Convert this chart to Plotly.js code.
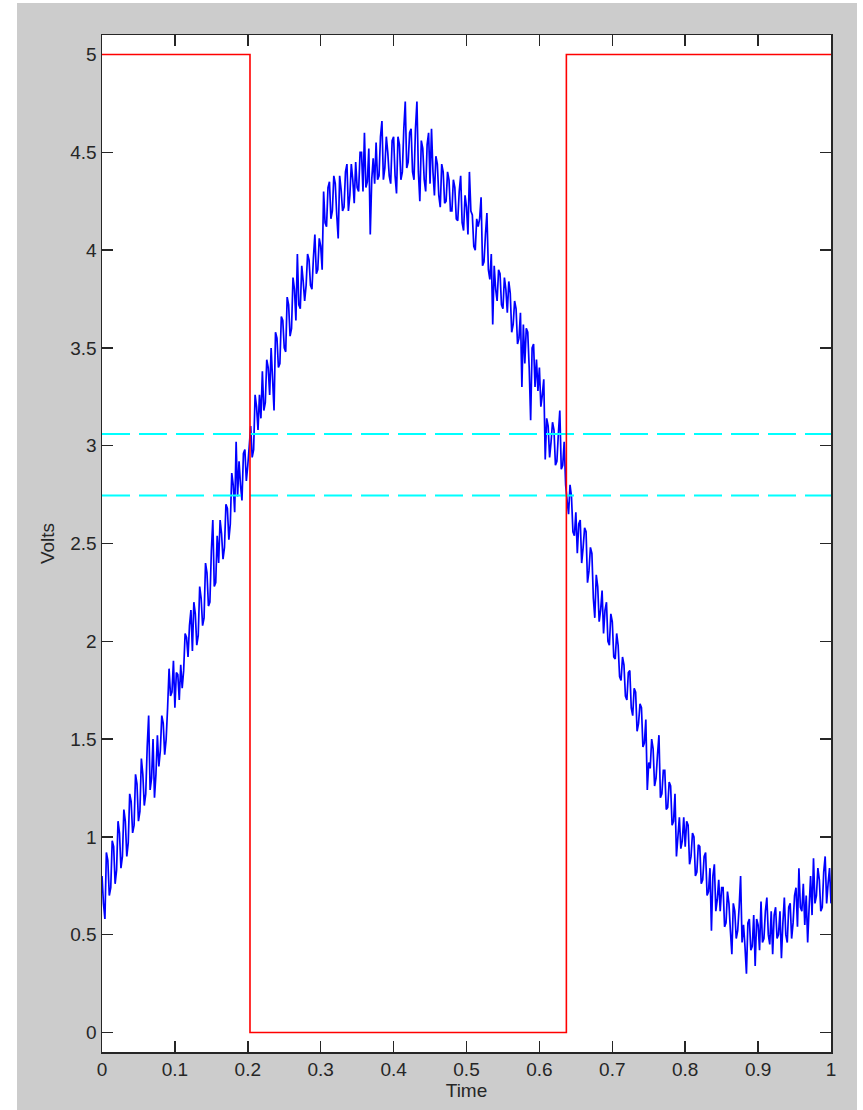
<!DOCTYPE html>
<html>
<head>
<meta charset="utf-8">
<script src="https://cdn.plot.ly/plotly-3.0.1.min.js"></script>
<style>
  html, body { margin: 0; padding: 0; background: #ffffff; }
  #chart { position: absolute; left: 17px; top: 3px; width: 840px; height: 1107px; }
</style>
</head>
<body>
<div id="chart"></div>
<script>
// Noisy measured signal (Volts), sampled every 0.002 s from t = 0
const signalStart = 0;
const signalStep = 0.002;
const signalVolts = [
  0.80, 0.66, 0.58, 0.92, 0.88, 0.70, 0.74, 0.98, 0.95, 0.76, 0.83, 1.08, 1.02, 0.84, 0.90, 1.14, 1.08, 0.90, 0.97, 1.22,
  1.18, 1.02, 1.06, 1.32, 1.27, 1.08, 1.13, 1.40, 1.32, 1.16, 1.22, 1.46, 1.62, 1.24, 1.30, 1.50, 1.20, 1.32, 1.52, 1.36,
  1.44, 1.62, 1.58, 1.42, 1.50, 1.66, 1.86, 1.72, 1.74, 1.90, 1.66, 1.84, 1.83, 1.70, 1.88, 1.76, 1.85, 2.04, 2.02, 1.92,
  2.08, 2.16, 1.95, 2.20, 2.14, 1.98, 2.03, 2.28, 2.22, 2.08, 2.12, 2.40, 2.35, 2.18, 2.20, 2.46, 2.62, 2.28, 2.30, 2.54,
  2.40, 2.62, 2.55, 2.42, 2.48, 2.70, 2.68, 2.52, 2.60, 2.86, 2.80, 2.66, 3.02, 2.74, 2.92, 2.80, 2.72, 2.96, 2.98, 2.82,
  2.90, 3.00, 3.10, 2.94, 2.98, 3.26, 3.20, 3.08, 3.26, 3.14, 3.38, 3.18, 3.22, 3.44, 3.40, 3.26, 3.50, 3.34, 3.18, 3.58,
  3.55, 3.40, 3.42, 3.66, 3.64, 3.50, 3.48, 3.76, 3.72, 3.56, 3.60, 3.86, 3.80, 3.64, 3.98, 3.72, 3.70, 3.92, 3.84, 3.74,
  3.82, 3.98, 3.95, 3.82, 3.80, 3.96, 4.08, 3.88, 3.90, 4.06, 4.02, 3.90, 4.30, 4.14, 4.12, 4.32, 4.35, 4.16, 4.20, 4.38,
  4.34, 4.18, 4.06, 4.38, 4.31, 4.20, 4.22, 4.40, 4.44, 4.20, 4.28, 4.44, 4.36, 4.24, 4.45, 4.32, 4.30, 4.50, 4.50, 4.30,
  4.60, 4.32, 4.35, 4.52, 4.08, 4.36, 4.47, 4.34, 4.55, 4.36, 4.38, 4.58, 4.66, 4.36, 4.42, 4.58, 4.50, 4.38, 4.34, 4.56,
  4.58, 4.38, 4.29, 4.58, 4.54, 4.36, 4.40, 4.62, 4.76, 4.42, 4.45, 4.60, 4.62, 4.40, 4.36, 4.62, 4.76, 4.40, 4.25, 4.56,
  4.52, 4.36, 4.30, 4.54, 4.60, 4.34, 4.62, 4.40, 4.28, 4.48, 4.44, 4.28, 4.22, 4.44, 4.40, 4.24, 4.25, 4.40, 4.36, 4.20,
  4.20, 4.36, 4.32, 4.16, 4.15, 4.30, 4.38, 4.14, 4.10, 4.28, 4.22, 4.08, 4.40, 4.20, 4.18, 4.02, 4.00, 4.16, 4.12, 4.16,
  4.27, 3.92, 3.94, 4.08, 4.19, 3.90, 3.85, 3.98, 3.62, 3.92, 3.80, 3.74, 3.90, 3.88, 3.72, 3.70, 3.86, 3.80, 3.68, 3.84,
  3.78, 3.58, 3.62, 3.74, 3.70, 3.52, 3.55, 3.68, 3.30, 3.62, 3.42, 3.60, 3.58, 3.40, 3.13, 3.50, 3.52, 3.30, 3.44, 3.28,
  3.40, 3.20, 3.26, 3.34, 2.93, 3.14, 3.10, 2.94, 3.02, 3.12, 3.08, 2.90, 2.92, 3.06, 3.18, 2.88, 2.90, 3.02, 2.80, 2.72,
  2.65, 2.80, 2.74, 2.56, 2.54, 2.66, 2.45, 2.60, 2.62, 2.40, 2.48, 2.58, 2.56, 2.30, 2.36, 2.48, 2.45, 2.22, 2.12, 2.34,
  2.28, 2.10, 2.16, 2.26, 2.04, 2.16, 2.20, 2.00, 1.98, 2.14, 2.10, 1.92, 1.91, 2.04, 1.98, 1.82, 1.80, 1.92, 1.88, 1.72,
  1.70, 1.84, 1.85, 1.66, 1.62, 1.76, 1.74, 1.54, 1.58, 1.68, 1.66, 1.46, 1.48, 1.60, 1.24, 1.38, 1.35, 1.50, 1.45, 1.26,
  1.30, 1.42, 1.52, 1.20, 1.22, 1.34, 1.34, 1.14, 1.15, 1.28, 1.26, 1.06, 1.08, 1.22, 0.90, 1.00, 1.10, 0.94, 0.98, 1.10,
  0.95, 1.08, 1.06, 0.86, 0.90, 1.02, 1.00, 0.80, 0.82, 0.96, 0.95, 0.76, 0.78, 0.90, 0.92, 0.70, 0.72, 0.84, 0.52, 0.80,
  0.86, 0.62, 0.68, 0.78, 0.62, 0.74, 0.74, 0.54, 0.56, 0.72, 0.66, 0.52, 0.40, 0.66, 0.62, 0.48, 0.52, 0.64, 0.80, 0.46,
  0.55, 0.44, 0.30, 0.56, 0.58, 0.42, 0.44, 0.60, 0.34, 0.58, 0.55, 0.42, 0.67, 0.46, 0.48, 0.62, 0.69, 0.50, 0.45, 0.62,
  0.40, 0.60, 0.64, 0.48, 0.50, 0.62, 0.38, 0.56, 0.69, 0.50, 0.46, 0.64, 0.66, 0.48, 0.56, 0.70, 0.74, 0.54, 0.84, 0.64,
  0.62, 0.76, 0.55, 0.70, 0.46, 0.64, 0.80, 0.60, 0.89, 0.66, 0.70, 0.84, 0.78, 0.62, 0.64, 0.82, 0.90, 0.66, 0.76, 0.84, 0.66
];

// Comparator (Schmitt trigger) output
const squareTime  = [0, 0.203, 0.203, 0.637, 0.637, 1];
const squareVolts = [5, 5, 0, 0, 5, 5];

// Hysteresis thresholds
const thresholdTime = [0, 1];
const upperThreshold = 3.06;
const lowerThreshold = 2.745;

// Axis ticks
const xTicks = [0, 0.1, 0.2, 0.3, 0.4, 0.5, 0.6, 0.7, 0.8, 0.9, 1];
const xTickLabels = ['0', '0.1', '0.2', '0.3', '0.4', '0.5', '0.6', '0.7', '0.8', '0.9', '1'];
const yTicks = [0, 0.5, 1, 1.5, 2, 2.5, 3, 3.5, 4, 4.5, 5];
const yTickLabels = ['0', '0.5', '1', '1.5', '2', '2.5', '3', '3.5', '4', '4.5', '5'];

const traces = [
  {
    type: 'scatter', mode: 'lines',
    x0: signalStart, dx: signalStep, y: signalVolts,
    line: { color: '#0000ff', width: 1.7, simplify: false },
    hoverinfo: 'skip'
  },
  {
    type: 'scatter', mode: 'lines',
    x: thresholdTime, y: thresholdTime.map(() => upperThreshold),
    line: { color: '#00ffff', width: 2, dash: '28px,9px' },
    hoverinfo: 'skip'
  },
  {
    type: 'scatter', mode: 'lines',
    x: thresholdTime, y: thresholdTime.map(() => lowerThreshold),
    line: { color: '#00ffff', width: 2, dash: '28px,9px' },
    hoverinfo: 'skip'
  },
  {
    type: 'scatter', mode: 'lines',
    x: squareTime, y: squareVolts,
    line: { color: '#ff0000', width: 1.6 },
    hoverinfo: 'skip'
  }
];

const axisFont = { family: 'Liberation Sans, Arial, sans-serif', size: 19, color: '#262626' };

const layout = {
  width: 840, height: 1107,
  paper_bgcolor: '#cccccc',
  plot_bgcolor: '#ffffff',
  showlegend: false,
  margin: { l: 85, r: 26, t: 32, b: 58 },
  font: axisFont,
  xaxis: {
    range: [0, 1],
    tickmode: 'array', tickvals: xTicks, ticktext: xTickLabels,
    ticks: 'inside', ticklen: 11, tickwidth: 1.5, tickcolor: '#262626',
    showline: true, linecolor: '#262626', linewidth: 1.5, mirror: 'ticks',
    showgrid: false, zeroline: false, layer: 'below traces',
    tickfont: axisFont,
    title: { text: 'Time', font: axisFont, standoff: 4 }
  },
  yaxis: {
    range: [-0.1, 5.1],
    tickmode: 'array', tickvals: yTicks, ticktext: yTickLabels,
    ticks: 'inside', ticklen: 11, tickwidth: 1.5, tickcolor: '#262626',
    showline: true, linecolor: '#262626', linewidth: 1.5, mirror: 'ticks',
    showgrid: false, zeroline: false, layer: 'below traces',
    tickfont: axisFont,
    title: { text: 'Volts', font: axisFont, standoff: 10 }
  }
};

Plotly.newPlot('chart', traces, layout, { staticPlot: true, displayModeBar: false });
</script>
</body>
</html>
